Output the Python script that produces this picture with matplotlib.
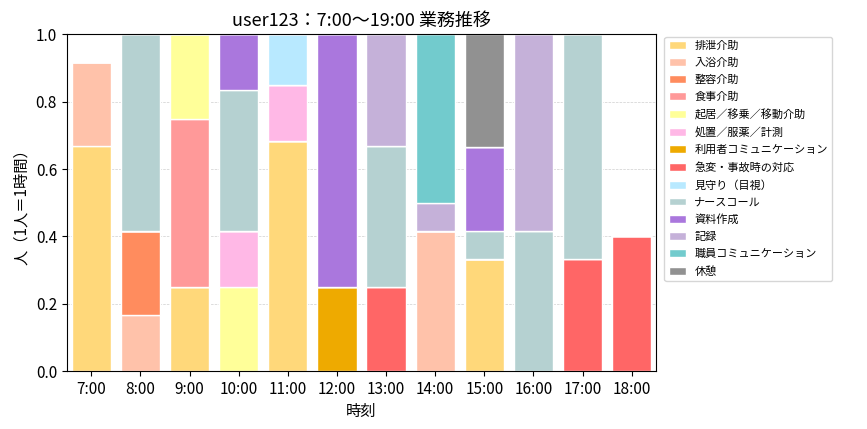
import matplotlib
matplotlib.use("Agg")
import matplotlib.pyplot as plt
import numpy as np

plt.rcParams['font.family'] = ['Noto Sans CJK JP', 'DejaVu Sans']

hours = ["7:00","8:00","9:00","10:00","11:00","12:00","13:00","14:00","15:00","16:00","17:00","18:00"]
categories = ["排泄介助","入浴介助","整容介助","食事介助","起居／移乗／移動介助","処置／服薬／計測",
              "利用者コミュニケーション","急変・事故時の対応","見守り（目視）","ナースコール",
              "資料作成","記録","職員コミュニケーション","休憩"]
colors = ["#FFD87A","#FFC2AA","#FF8C5E","#FF9999","#FFFF99","#FFB8E6","#EEAA00","#FF6666",
          "#B8E9FF","#B5D1D1","#AA77DD","#C5B1D9","#72CBCD","#919191"]

values = {
    "排泄介助":            [0.667,0,0.25,0,0.683,0,0,0,0.333,0,0,0],
    "入浴介助":            [0.25,0.167,0,0,0,0,0,0.417,0,0,0,0],
    "整容介助":            [0,0.25,0,0,0,0,0,0,0,0,0,0],
    "食事介助":            [0,0,0.5,0,0,0,0,0,0,0,0,0],
    "起居／移乗／移動介助": [0,0,0.25,0.25,0,0,0,0,0,0,0,0],
    "処置／服薬／計測":     [0,0,0,0.167,0.167,0,0,0,0,0,0,0],
    "利用者コミュニケーション":[0,0,0,0,0,0.25,0,0,0,0,0,0],
    "急変・事故時の対応":   [0,0,0,0,0,0,0.25,0,0,0,0.333,0.4],
    "見守り（目視）":       [0,0,0,0,0.15,0,0,0,0,0,0,0],
    "ナースコール":         [0,0.583,0,0.417,0,0,0.417,0,0.083,0.417,0.667,0],
    "資料作成":            [0,0,0,0.167,0,0.75,0,0,0.25,0,0,0],
    "記録":               [0,0,0,0,0,0,0.333,0.083,0,0.583,0,0],
    "職員コミュニケーション":[0,0,0,0,0,0,0,0.5,0,0,0,0],
    "休憩":               [0,0,0,0,0,0,0,0,0.334,0,0,0],
}

fig, ax = plt.subplots(figsize=(8.67,4.29), dpi=100)
x = np.arange(len(hours))
bottom = np.zeros(len(hours))
for cat, col in zip(categories, colors):
    v = np.array(values[cat])
    ax.bar(x, v, bottom=bottom, color=col, edgecolor='white', linewidth=1, width=0.8, label=cat)
    bottom += v
ax.set_xticks(x)
ax.set_xticklabels(hours, fontsize=11)
ax.set_ylim(0,1)
ax.set_xlim(-0.5, len(hours)-0.5)
ax.tick_params(axis='y', labelsize=11)
ax.yaxis.grid(True, linestyle='--', linewidth=0.5, alpha=0.6)
ax.set_axisbelow(True)
ax.set_xlabel("時刻", fontsize=11)
ax.set_ylabel("人（1人＝1時間）", fontsize=11)
ax.set_title("user123：7:00～19:00 業務推移", fontsize=13)
ax.legend(loc='upper left', bbox_to_anchor=(1.01,1.0), fontsize=8, frameon=True,
          handlelength=1.5, labelspacing=0.62, borderaxespad=0.2)
plt.subplots_adjust(left=0.077, right=0.757, top=0.92, bottom=0.135)
fig.savefig("out.png", dpi=100)
